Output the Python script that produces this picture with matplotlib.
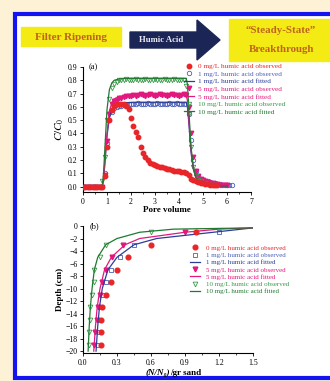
import numpy as np
import matplotlib.pyplot as plt
from matplotlib.patches import Rectangle, Polygon
from matplotlib.lines import Line2D

plt.rcParams['font.family'] = ['Liberation Serif', 'DejaVu Serif']
plt.rcParams['mathtext.fontset'] = 'stix'

#%% data, panel (a): breakthrough curves
pv = np.round(np.arange(0, 6.3, 0.1), 1)   # pore volumes sampled

obs0 = [0, 0, 0, 0, 0, 0, 0, 0, 0,
        0.08, 0.30, 0.50, 0.58, 0.61, 0.62, 0.62, 0.62, 0.62, 0.61,
        0.585, 0.52, 0.46, 0.41, 0.37, 0.30, 0.25, 0.22, 0.20, 0.18,
        0.17, 0.16, 0.155, 0.15, 0.145, 0.14, 0.135, 0.13, 0.125, 0.12,
        0.12, 0.115, 0.11, 0.11, 0.10, 0.09, 0.06, 0.05, 0.04, 0.035,
        0.03, 0.025, 0.02, 0.02, 0.015, 0.015, 0.01, 0.01]
obs1 = [0, 0, 0, 0, 0, 0, 0, 0, 0,
        0.10, 0.33, 0.50, 0.56, 0.59, 0.60, 0.61, 0.61, 0.615, 0.62,
        0.62, 0.625, 0.62, 0.625, 0.63, 0.625, 0.62, 0.625, 0.63, 0.625,
        0.62, 0.625, 0.63, 0.625, 0.62, 0.625, 0.625, 0.63, 0.62, 0.625,
        0.63, 0.625, 0.62, 0.625, 0.625, 0.55, 0.35, 0.20, 0.12, 0.08,
        0.06, 0.05, 0.045, 0.04, 0.035, 0.03, 0.025, 0.02, 0.02, 0.015,
        0.015, 0.01, 0.01, 0.01]
obs5 = [0, 0, 0, 0, 0, 0, 0, 0, 0,
        0.09, 0.34, 0.55, 0.62, 0.645, 0.655, 0.665, 0.67, 0.675, 0.68,
        0.68, 0.685, 0.69, 0.685, 0.69, 0.695, 0.69, 0.685, 0.69, 0.695,
        0.69, 0.685, 0.69, 0.695, 0.69, 0.69, 0.685, 0.69, 0.695, 0.69,
        0.69, 0.685, 0.69, 0.695, 0.69, 0.60, 0.40, 0.22, 0.12, 0.08,
        0.06, 0.05, 0.04, 0.035, 0.03, 0.025, 0.02, 0.02, 0.015, 0.015,
        0.01, 0.01]
obs10 = [0, 0, 0, 0, 0, 0, 0, 0, 0.04,
         0.22, 0.50, 0.66, 0.74, 0.77, 0.79, 0.80, 0.80, 0.805, 0.81,
         0.805, 0.80, 0.805, 0.81, 0.805, 0.80, 0.805, 0.81, 0.805, 0.80,
         0.805, 0.81, 0.805, 0.80, 0.805, 0.81, 0.805, 0.80, 0.805, 0.81,
         0.805, 0.80, 0.805, 0.80, 0.76, 0.55, 0.30, 0.15, 0.08, 0.05,
         0.04, 0.03, 0.025, 0.02, 0.015, 0.01, 0.01]

pv_fit = [0, 0.8, 0.85, 0.9, 1.0, 1.1, 1.2, 1.3, 1.5, 1.8, 2.2, 3.0, 4.3,
          4.35, 4.4, 4.45, 4.5, 4.6, 4.7, 4.8, 5.0, 5.3, 5.6, 6.0]
fit1 = [0, 0, 0.05, 0.15, 0.38, 0.52, 0.58, 0.61, 0.625, 0.632, 0.635, 0.635,
        0.635, 0.60, 0.50, 0.38, 0.26, 0.13, 0.07, 0.045, 0.025, 0.015, 0.01, 0.005]
fit5 = [0, 0, 0.05, 0.16, 0.40, 0.57, 0.63, 0.66, 0.675, 0.68, 0.683, 0.685,
        0.685, 0.65, 0.54, 0.41, 0.28, 0.14, 0.075, 0.05, 0.028, 0.016, 0.01, 0.005]
fit10 = [0, 0, 0.08, 0.25, 0.58, 0.73, 0.78, 0.80, 0.81, 0.815, 0.815, 0.815,
         0.815, 0.77, 0.62, 0.45, 0.30, 0.14, 0.07, 0.045, 0.025, 0.015, 0.01, 0.005]

#%% data, panel (b): retention profiles
depth = [-1, -3, -5, -7, -9, -11, -13, -15, -17, -19]
ret0 = [1.0, 0.60, 0.40, 0.30, 0.25, 0.20, 0.17, 0.16, 0.16, 0.16]
ret1 = [1.2, 0.45, 0.33, 0.25, 0.20, 0.18, 0.16, 0.15, 0.14, 0.13]
ret5 = [0.9, 0.35, 0.26, 0.20, 0.17, 0.15, 0.13, 0.12, 0.11, 0.10]
ret10 = [0.6, 0.20, 0.15, 0.10, 0.10, 0.08, 0.06, 0.06, 0.05, 0.05]

depth_fit = [-0.3, -0.5, -1, -2, -3, -5, -7, -10, -13, -16, -20]
rfit1 = [1.5, 1.4, 1.15, 0.65, 0.45, 0.30, 0.22, 0.17, 0.145, 0.13, 0.115]
rfit5 = [1.5, 1.2, 0.90, 0.50, 0.37, 0.25, 0.19, 0.15, 0.125, 0.11, 0.095]
rfit10 = [1.5, 0.8, 0.50, 0.30, 0.20, 0.13, 0.10, 0.08, 0.065, 0.055, 0.045]

labels = ['0 mg/L humic acid observed', '1 mg/L humic acid observed',
          '1 mg/L humic acid fitted', '5 mg/L humic acid observed',
          '5 mg/L humic acid fitted', '10 mg/L humic acid observed',
          '10 mg/L humic acid fitted']

red, blue, navy, mag, green, dgreen = '#e8262a', '#4a5fb8', '#2c3c98', '#e2197c', '#3a9a4a', '#1f7a30'
txt_orange = '#c0641c'
W, H = 330, 381


def fx(x):
    return x / W


def fy(y):
    return 1 - y / H


#%% figure
fig = plt.figure(figsize=(3.3, 3.81), dpi=100, facecolor='#fdf1d6')
fig.add_artist(Rectangle((fx(15), fy(378)), fx(330), fy(14) - fy(378),
                         transform=fig.transFigure, facecolor='white',
                         edgecolor='#1414f0', lw=3, zorder=-10))

# header
fig.add_artist(Rectangle((fx(21), fy(46)), fx(100), fy(27) - fy(46),
                         transform=fig.transFigure, color='#f4ea14', zorder=-5))
fig.add_artist(Rectangle((fx(229), fy(61)), fx(110), fy(19) - fy(61),
                         transform=fig.transFigure, color='#f4ea14', zorder=-5))
arrow = [(130, 32), (197, 32), (197, 20), (220, 40), (197, 60), (197, 48), (130, 48)]
fig.add_artist(Polygon([(fx(a), fy(b)) for a, b in arrow], closed=True,
                       transform=fig.transFigure, color='#1c2656', zorder=-5))
fig.text(fx(71), fy(37), 'Filter Ripening', ha='center', va='center',
         fontsize=8, fontweight='bold', color=txt_orange)
fig.text(fx(161), fy(40), 'Humic Acid', ha='center', va='center',
         fontsize=6.3, fontweight='bold', color='#e8e8f0')
fig.text(fx(281), fy(30), '\u201cSteady-State\u201d', ha='center', va='center',
         fontsize=7.8, fontweight='bold', color=txt_orange)
fig.text(fx(281), fy(50), 'Breakthrough', ha='center', va='center',
         fontsize=7.8, fontweight='bold', color=txt_orange)


def style(ax):
    for s in ['top', 'right']:
        ax.spines[s].set_visible(False)
    for s in ['left', 'bottom']:
        ax.spines[s].set_linewidth(0.8)
    ax.tick_params(direction='out', length=2.5, width=0.6, labelsize=5.6, pad=1.5)
    ax.tick_params(which='minor', direction='out', length=1.5, width=0.5)
    ax.set_facecolor('none')


#%% panel (a)
ax1 = fig.add_axes([fx(83), fy(192), fx(168), fy(67) - fy(192)])
ms = 3.2
h0, = ax1.plot(pv[:len(obs0)], obs0, 'o', color=red, ms=ms, mec=red, zorder=3)
h1, = ax1.plot(pv[:len(obs1)], obs1, 'o', mfc='none', mec=blue, ms=ms, mew=0.6)
h5, = ax1.plot(pv[:len(obs5)], obs5, 'v', color=mag, ms=ms)
h10, = ax1.plot(pv[:len(obs10)], obs10, 'v', mfc='none', mec=green, ms=ms, mew=0.6)
ax1.plot(pv_fit, fit1, color=navy, lw=0.9)
ax1.plot(pv_fit, fit5, color=mag, lw=0.9)
ax1.plot(pv_fit, fit10, color=dgreen, lw=0.9)
ax1.set_xlim(0, 7)
ax1.set_ylim(-0.04, 0.9)
ax1.set_xticks(range(0, 8))
ax1.set_xticks(np.arange(0.5, 7, 1), minor=True)
ax1.set_yticks(np.round(np.arange(0, 0.91, 0.1), 1))
ax1.set_yticklabels([f'{v:.1f}' for v in np.arange(0, 0.91, 0.1)])
style(ax1)
ax1.set_xlabel('Pore volume', fontsize=6.5, fontweight='bold', labelpad=0.5)
ax1.set_ylabel(r'$C/C_0$', fontsize=8, labelpad=1)
ax1.text(0.25, 0.9, '(a)', fontsize=6, va='center')

hl1 = Line2D([], [], color=navy, lw=0.9)
hl5 = Line2D([], [], color=mag, lw=0.9)
hl10 = Line2D([], [], color=dgreen, lw=0.9)
cols = [red, blue, navy, mag, mag, green, dgreen]
fig.legend([h0, h1, hl1, h5, hl5, h10, hl10], labels, loc='upper left',
           bbox_to_anchor=(fx(184), fy(63)), fontsize=5.2, frameon=False,
           handlelength=1.4, handletextpad=0.5, labelspacing=0.22,
           labelcolor=cols, borderpad=0, borderaxespad=0)

#%% panel (b)
ax2 = fig.add_axes([fx(83), fy(353), fx(170), fy(226) - fy(353)])
ms2 = 3.4
g0, = ax2.plot(ret0, depth, 'o', color=red, ms=ms2, zorder=3)
g1, = ax2.plot(ret1, depth, 's', mfc='none', mec=blue, ms=ms2 - 0.4, mew=0.6)
g5, = ax2.plot(ret5, depth, 'v', color=mag, ms=ms2)
g10, = ax2.plot(ret10, depth, 'v', mfc='none', mec=green, ms=ms2, mew=0.6)
ax2.plot(rfit1, depth_fit, color=navy, lw=0.9)
ax2.plot(rfit5, depth_fit, color=mag, lw=0.9)
ax2.plot(rfit10, depth_fit, color=dgreen, lw=0.9)
ax2.set_xlim(0, 1.5)
ax2.set_ylim(-20.3, 0)
ax2.set_xticks(np.round(np.arange(0, 1.51, 0.3), 1))
ax2.set_xticklabels([f'{v:.1f}' for v in np.arange(0, 1.51, 0.3)])
ax2.set_xticks(np.arange(0.15, 1.5, 0.3), minor=True)
ax2.set_yticks(range(-20, 1, 2))
style(ax2)
# x label: italic ratio + bold unit, placed as two pieces
ax2.text(0.51, -0.125, '(N/N\u2080)', transform=ax2.transAxes, ha='right',
         va='top', fontsize=6.5, fontweight='bold', fontstyle='italic')
ax2.text(0.51, -0.125, '/gr sand', transform=ax2.transAxes, ha='left',
         va='top', fontsize=6.5, fontweight='bold')
ax2.set_ylabel('Depth (cm)', fontsize=6.5, fontweight='bold', labelpad=1)
ax2.text(0.06, 0, '(b)', fontsize=6, va='center')

fig.legend([g0, g1, hl1, g5, hl5, g10, hl10], labels, loc='upper left',
           bbox_to_anchor=(fx(190), fy(245)), fontsize=5.0, frameon=False,
           handlelength=1.4, handletextpad=0.9, labelspacing=0.2,
           labelcolor=cols, borderpad=0, borderaxespad=0)

fig.savefig('out.png', dpi=100, facecolor=fig.get_facecolor())
